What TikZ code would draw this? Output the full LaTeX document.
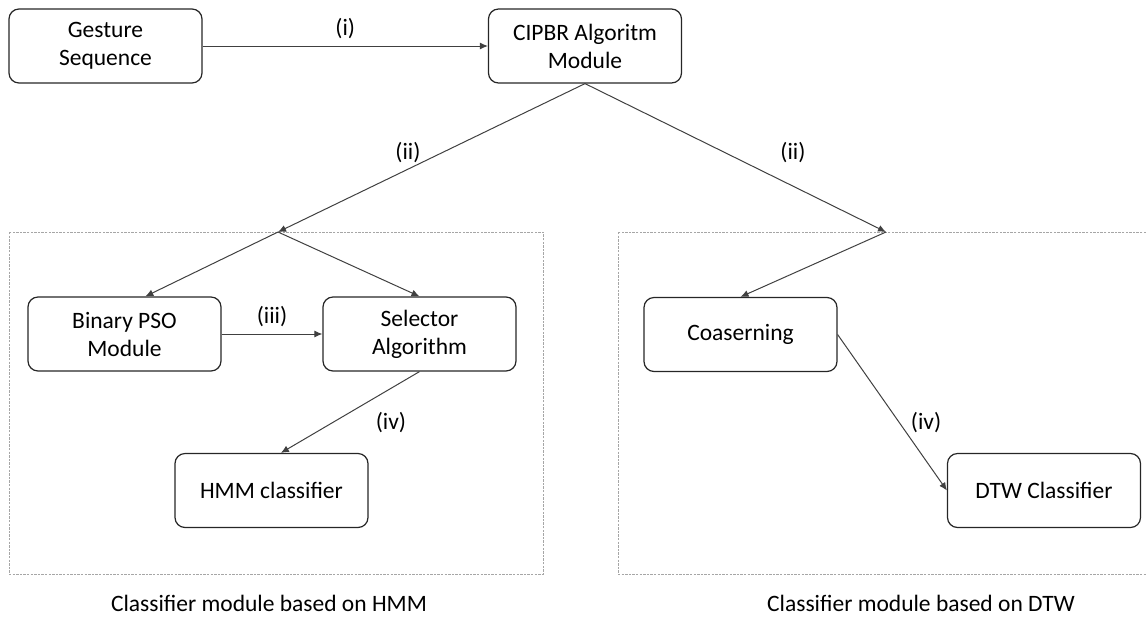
\documentclass[tikz,border=0pt]{standalone}
\usepackage{fontspec}
\setmainfont{Carlito}
\usetikzlibrary{arrows.meta}
\tikzset{auto,
  module/.style={draw=black!85, line width=0.6pt, rounded corners=5pt,
    minimum width=96.5pt, minimum height=37pt, align=center, inner sep=2pt,
    font=\fontsize{11.75}{14}\selectfont},
  lbl/.style={font=\fontsize{11.75}{14}\selectfont},
  flow/.style={draw=black!75, line width=0.5pt, -{Latex[length=4pt,width=3.5pt]}},
  group/.style={draw=black!35, line width=0.4pt, dash pattern=on 1.2pt off 0.6pt}}

\begin{document}
\begin{tikzpicture}[x=0.5pt, y=-0.5pt]
                \useasboundingbox (0,0) rectangle (1146,617);
                % dashed module frames
                \draw[group] (9,232) rectangle (543,574);
                \draw[group] (618,232) rectangle (1152,574);
                \node[module] (gesture)  at (105.5,46)   {Gesture\\Sequence};
                \node[module] (cipbr)    at (585,46)     {CIPBR Algoritm\\Module};
                \node[module] (binpso)   at (124.5,334)  {Binary PSO\\Module};
                \node[module] (selector) at (419.5,334)  {Selector\\Algorithm};
                \node[module] (hmm)      at (271.5,490.5){HMM classifier};
                \node[module] (coarse)   at (740.5,334.5){Coaserning};
                \node[module] (dtw)      at (1044,490.5) {DTW Classifier};
                \coordinate (splitL) at (278,232);
                \coordinate (splitR) at (886,232);
                \draw[flow] (gesture) to node[lbl, above] {(i)} (cipbr);
                \draw[flow] (cipbr.south) to (splitL);
                \draw[flow] (cipbr.south) to (splitR);
                \draw[flow] (splitL) to (binpso.61);
                \draw[flow] (splitL) to (selector.north);
                \draw[flow] (binpso) to node[lbl, above] {(iii)} (selector);
                \draw[flow] (selector.south) to (hmm.76);
                \draw[flow] (splitR) to (coarse.north);
                \draw[flow] (coarse.east) to (dtw.west);
                \node[lbl] (iiL)  at (408,153) {(ii)};
                \node[lbl] (iiR)  at (793,153) {(ii)};
                \node[lbl] (ivL)  at (391,423) {(iv)};
                \node[lbl] (ivR)  at (926,423) {(iv)};
                % captions
                \node[lbl] (capHMM) at (269,603) {Classifier module based on HMM};
                \node[lbl] (capDTW) at (921,603) {Classifier module based on DTW};
              \end{tikzpicture}
\end{document}
